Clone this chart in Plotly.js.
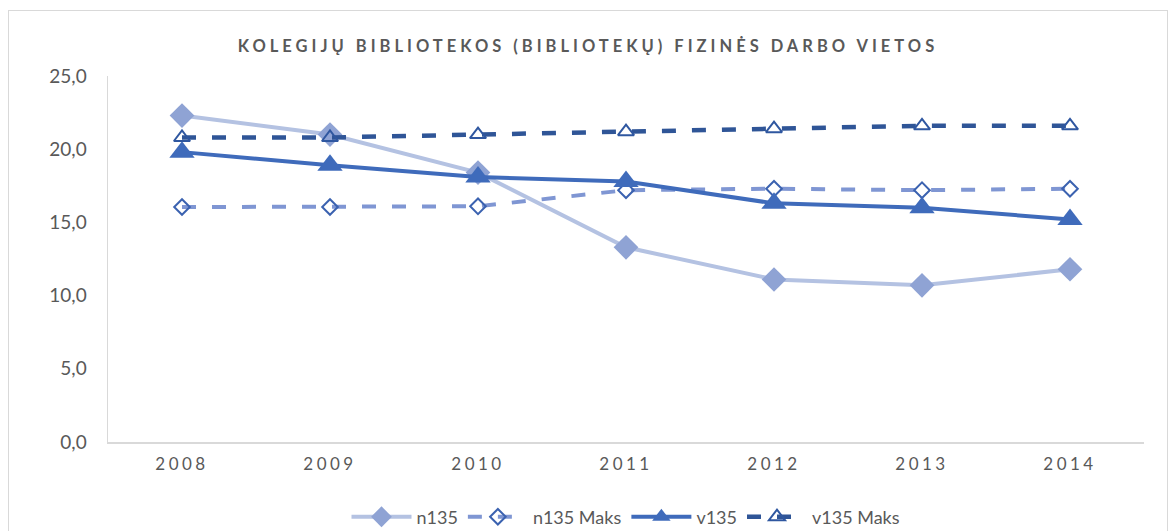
<!DOCTYPE html>
<html>
<head>
<meta charset="utf-8">
<script src="https://cdn.plot.ly/plotly-3.0.1.min.js"></script>
<style>
  html, body { margin: 0; padding: 0; background: #fff; }
  #wrap { position: relative; width: 1176px; height: 531px; }
  #frame { position: absolute; left: 8px; top: 10px; width: 1160px; height: 530px; border: 1px solid #d9d9d9; box-sizing: border-box; pointer-events: none; z-index: 5; }
  #chart { width: 1176px; height: 531px; }
  .gtitle { letter-spacing: 4px; }
  .xtick text { letter-spacing: 3.5px; }
</style>
</head>
<body>
<div id="wrap">
  <div id="chart"></div>
  <div id="frame"></div>
</div>
<script>
const years = ["2008", "2009", "2010", "2011", "2012", "2013", "2014"];
const n135 = [22.3, 21.0, 18.4, 13.3, 11.1, 10.7, 11.8];
const n135Maks = [16.05, 16.05, 16.1, 17.2, 17.3, 17.2, 17.3];
const v135 = [19.8, 18.9, 18.1, 17.8, 16.3, 16.0, 15.2];
const v135Maks = [20.8, 20.8, 21.0, 21.2, 21.4, 21.6, 21.6];
const seriesNames = ["n135", "n135 Maks", "v135", "v135 Maks"];
const yTicks = [0, 5, 10, 15, 20, 25];

const traces = [
  {
    x: years, y: n135, name: seriesNames[0], type: "scatter", mode: "lines+markers",
    line: { color: "#b4c2e2", width: 4 },
    marker: { symbol: "diamond", size: 19, color: "#8fa3d4" }
  },
  {
    x: years, y: n135Maks, name: seriesNames[1], type: "scatter", mode: "lines+markers",
    line: { color: "#7f96d3", width: 4, dash: "14px,16px" },
    marker: { symbol: "diamond-open", size: 12, color: "#3b62b0", line: { width: 2, color: "#3b62b0" } }
  },
  {
    x: years, y: v135, name: seriesNames[2], type: "scatter", mode: "lines+markers",
    line: { color: "#3f6bbb", width: 4 },
    marker: { symbol: "triangle-up", size: 22, color: "#3f6bbb" }
  },
  {
    x: years, y: v135Maks, name: seriesNames[3], type: "scatter", mode: "lines+markers",
    line: { color: "#2f5597", width: 4.5, dash: "14px,16px" },
    marker: { symbol: "triangle-up-open", size: 14, color: "#2f57a0", line: { width: 2, color: "#2f57a0" } }
  }
];

const layout = {
  width: 1176, height: 531,
  margin: { l: 108, r: 32, t: 76, b: 89, autoexpand: false },
  paper_bgcolor: "#ffffff", plot_bgcolor: "#ffffff",
  separators: ",.",
  font: { family: "Lato, 'Open Sans', sans-serif", color: "#595959", size: 15 },
  title: {
    text: "<b>KOLEGIJŲ BIBLIOTEKOS (BIBLIOTEKŲ) FIZINĖS DARBO VIETOS</b>",
    font: { size: 16.5, color: "#595959", family: "Lato, 'Open Sans', sans-serif" },
    x: 0.5, xanchor: "center", y: 0.913, yanchor: "middle"
  },
  xaxis: {
    type: "category", range: [-0.5, 6.5], showgrid: false, zeroline: false,
    showline: true, linecolor: "#d9d9d9", linewidth: 1.5,
    ticks: "", tickfont: { size: 17, color: "#595959" }, ticklabelstandoff: 6
  },
  yaxis: {
    range: [0, 25], tickvals: yTicks, tickformat: ".1f",
    showgrid: false, zeroline: false,
    showline: true, linecolor: "#d9d9d9", linewidth: 1.5,
    ticks: "", tickfont: { size: 19, color: "#595959" }, ticklabelstandoff: 16
  },
  showlegend: true,
  legend: {
    orientation: "h", x: 0.5, xanchor: "center", y: -0.205, yanchor: "middle",
    font: { size: 18, color: "#595959" }, itemwidth: 60
  }
};

Plotly.newPlot("chart", traces, layout, { displayModeBar: false, staticPlot: true });
</script>
</body>
</html>
